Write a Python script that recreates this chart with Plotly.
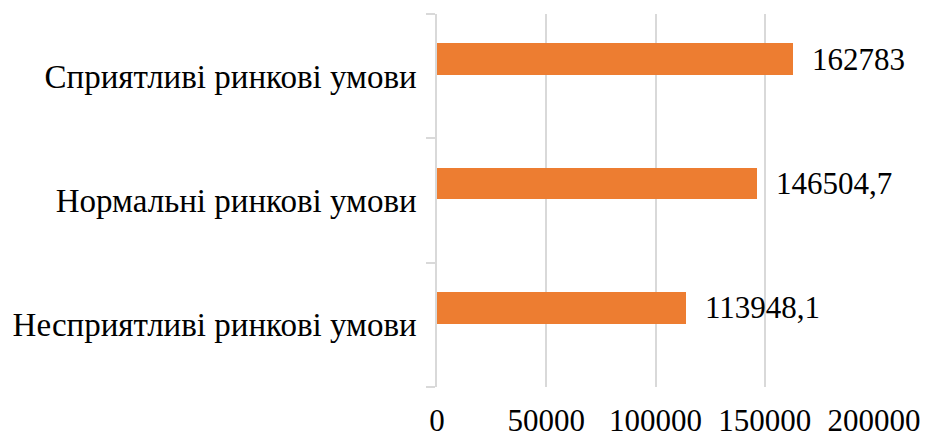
import plotly.graph_objects as go

# Scenario categories (bottom to top) and their values
categories = [
    "Несприятливі ринкові умови",
    "Нормальні ринкові умови",
    "Сприятливі ринкові умови",
]
values = [113948.1, 146504.7, 162783]
value_labels = ["113948,1", "146504,7", "162783"]
x_ticks = [0, 50000, 100000, 150000, 200000]

FONT = "Liberation Serif"
GRID = "#d9d9d9"
NUM_SIZE = 31
CAT_SIZE = 33

fig = go.Figure(
    go.Bar(
        y=categories,
        x=values,
        orientation="h",
        marker=dict(color="#ed7d31", line=dict(width=0)),
        width=0.255,
        offset=0.01,
        hoverinfo="skip",
    )
)

# value labels to the right of each bar
for cat, val, lab in zip(categories, values, value_labels):
    fig.add_annotation(
        x=val, y=cat, text=lab, showarrow=False,
        xanchor="left", yanchor="middle", xshift=17, yshift=17,
        font=dict(family=FONT, size=NUM_SIZE, color="#000000"),
    )

fig.update_layout(
    width=925, height=438,
    margin=dict(l=437, r=51, t=14, b=51, autoexpand=False),
    paper_bgcolor="white", plot_bgcolor="white",
    showlegend=False,
    font=dict(family=FONT, size=NUM_SIZE, color="#000000"),
    bargap=0,
)
fig.update_xaxes(
    range=[0, 200000], tickvals=x_ticks, ticktext=[str(v) for v in x_ticks],
    showgrid=True, gridcolor=GRID, gridwidth=1.5,
    zeroline=False, showline=False, ticks="",
    ticklabelstandoff=12, automargin=False,
    tickfont=dict(family=FONT, size=NUM_SIZE, color="#000000"),
)
fig.update_yaxes(
    type="category", categoryorder="array", categoryarray=categories,
    showgrid=False, zeroline=False,
    showline=True, linecolor=GRID, linewidth=1.5,
    ticks="outside", tickson="boundaries", ticklen=9,
    tickcolor=GRID, tickwidth=1.5,
    ticklabelstandoff=12, automargin=False,
    tickfont=dict(family=FONT, size=CAT_SIZE, color="#000000"),
)

fig.write_html("out.html")
